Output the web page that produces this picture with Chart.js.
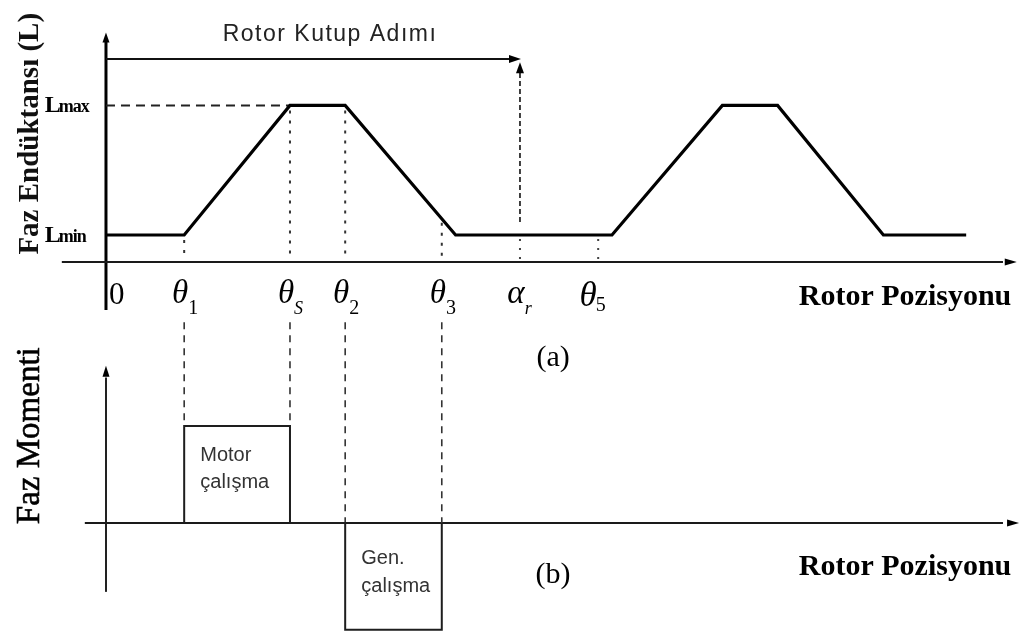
<!DOCTYPE html>
<html>
<head>
<meta charset="utf-8">
<script src="https://cdn.jsdelivr.net/npm/chart.js@4/dist/chart.umd.min.js"></script>
<style>
  html, body { margin: 0; padding: 0; background: #fff; }
  #wrap { width: 1024px; height: 633px; }
</style>
</head>
<body>
<div id="wrap"><canvas id="c" width="1024" height="633"></canvas></div>
<script>
// Rotor positions (electrical degrees) marked along the position axis
const positionMain   = ['0', 'θ', 'θ', 'θ', 'θ', 'α', 'θ'];
const positionSub    = ['',  '1', 'S', '2', '3', 'r', '5'];
const positionValues = [0, 17, 40, 52, 73, 90, 107];

// Phase inductance profile (two rotor pole pitches)
const L_MIN = 10, L_MAX = 58;
const inductanceAngle = [0, 17, 40, 52, 76, 110, 134, 146, 169, 187];
const inductanceValue = [L_MIN, L_MIN, L_MAX, L_MAX, L_MIN, L_MIN, L_MAX, L_MAX, L_MIN, L_MIN];

// Phase torque: motoring block (θ1..θS) and generating block (θ2..θ3)
const torqueAngle = [17, 17, 40, 40, 52, 52, 73, 73];
const torqueValue = [0, 1, 1, 0, 0, -1.1, -1.1, 0];

const ROTOR_POLE_PITCH = 90;

const SERIF = '"Liberation Serif", "DejaVu Serif", serif';
const SANS = '"Liberation Sans", Arial, sans-serif';

function seg(ctx, x1, y1, x2, y2, w, color, dash) {
  ctx.beginPath();
  ctx.setLineDash(dash || []);
  ctx.lineWidth = w;
  ctx.strokeStyle = color;
  ctx.moveTo(x1, y1);
  ctx.lineTo(x2, y2);
  ctx.stroke();
  ctx.setLineDash([]);
}

function head(ctx, tx, ty, ang, len, half, color) {
  const c = Math.cos(ang), s = Math.sin(ang);
  const bx = tx - c * len, by = ty - s * len;
  ctx.beginPath();
  ctx.fillStyle = color || '#000';
  ctx.moveTo(tx, ty);
  ctx.lineTo(bx - s * half, by + c * half);
  ctx.lineTo(bx + s * half, by - c * half);
  ctx.closePath();
  ctx.fill();
}

const decor = {
  id: 'decor',
  beforeDatasetsDraw(chart) {
    const { ctx, scales: { x, yL, yT } } = chart;
    const X = v => x.getPixelForValue(v);
    const YL = v => yL.getPixelForValue(v);
    const YT = v => yT.getPixelForValue(v);
    ctx.save();
    ctx.lineCap = 'butt';

    // ---- (a) inductance panel axes ----
    seg(ctx, X(0), YL(-17.8), X(0), YL(82), 3, '#000');
    head(ctx, X(0), YL(85), -Math.PI / 2, 10, 3.5, '#000');
    seg(ctx, X(-9.6), YL(0), X(195), YL(0), 2, '#1a1a1a');
    head(ctx, X(198), YL(0), 0, 12, 3.5, '#000');

    // rotor pole pitch arrow
    seg(ctx, X(0), YL(75.2), X(ROTOR_POLE_PITCH) - 4, YL(75.2), 2, '#111');
    head(ctx, X(ROTOR_POLE_PITCH) + 1, YL(75.2), 0, 12, 4, '#000');
    seg(ctx, X(ROTOR_POLE_PITCH), YL(14.8), X(ROTOR_POLE_PITCH), YL(71), 1.6, '#111', [5, 3]);
    head(ctx, X(ROTOR_POLE_PITCH), YL(74), -Math.PI / 2, 11, 4, '#000');

    // L_max reference
    seg(ctx, X(0), YL(L_MAX), X(40), YL(L_MAX), 2, '#222', [9, 6]);

    // dotted guides from the profile down to the axis
    const dot = [3, 7];
    seg(ctx, X(17), YL(L_MIN) + 5, X(17), YL(0) - 2, 2, '#333', dot);
    seg(ctx, X(40), YL(L_MAX) + 5, X(40), YL(3), 2, '#333', dot);
    seg(ctx, X(52), YL(L_MAX) + 5, X(52), YL(3), 2, '#333', dot);
    seg(ctx, X(73), YL(16) + 4, X(73), YL(0) - 2, 2, '#333', dot);
    seg(ctx, X(90), YL(L_MIN) + 4, X(90), YL(0) + 3, 2, '#444', [2, 7]);
    seg(ctx, X(107), YL(L_MIN) + 4, X(107), YL(0) + 3, 2, '#444', [2, 7]);

    // ---- (b) torque panel axes ----
    seg(ctx, X(0), YT(-0.71), X(0), YT(1.5), 2, '#222');
    head(ctx, X(0), YT(1.62), -Math.PI / 2, 11, 3.5, '#000');
    seg(ctx, X(-4.6), YT(0), X(195), YT(0), 2, '#1a1a1a');
    head(ctx, X(198.5), YT(0), 0, 12, 3.5, '#000');

    // dashed projections of the switching angles
    const dash = [7, 6];
    seg(ctx, X(17), YT(2.07), X(17), YT(1), 1.6, '#333', dash);
    seg(ctx, X(40), YT(2.07), X(40), YT(1), 1.6, '#333', dash);
    seg(ctx, X(52), YT(2.07), X(52), YT(0), 1.6, '#333', dash);
    seg(ctx, X(73), YT(2.07), X(73), YT(0), 1.6, '#333', dash);
    ctx.restore();
  },
  afterDatasetsDraw(chart) {
    const { ctx, scales: { x, yL, yT } } = chart;
    const X = v => x.getPixelForValue(v);
    const YL = v => yL.getPixelForValue(v);
    const YT = v => yT.getPixelForValue(v);
    ctx.save();
    ctx.fillStyle = '#000';

    // title of the pitch arrow
    ctx.font = '23px ' + SANS;
    ctx.letterSpacing = '1.5px';
    ctx.textAlign = 'center';
    ctx.textBaseline = 'middle';
    ctx.fillStyle = '#222';
    ctx.fillText('Rotor Kutup Adımı', X(48.7), YL(84.2));
    ctx.letterSpacing = '0px';

    // L_max / L_min labels
    ctx.fillStyle = '#000';
    ctx.textBaseline = 'alphabetic';
    ctx.textAlign = 'left';
    [['max', L_MAX], ['min', L_MIN]].forEach(([s, v]) => {
      const by = YL(v) + 7;
      ctx.font = 'bold 24px ' + SERIF;
      const w = ctx.measureText('L').width;
      ctx.fillText('L', X(-13.3), by);
      ctx.font = 'bold 18px ' + SERIF;
      ctx.letterSpacing = '-1px';
      ctx.fillText(s, X(-13.3) + w - 2, by);
      ctx.letterSpacing = '0px';
    });

    // position marks along the axis
    positionValues.forEach((v, i) => {
      const main = positionMain[i], sub = positionSub[i];
      const by = YL(-11.2) + 11;
      if (main === '0') {
        ctx.font = '31px ' + SERIF;
        ctx.textAlign = 'left';
        ctx.fillText('0', X(v) + 3, by + 1);
        return;
      }
      const theta5 = sub === '5';
      ctx.font = (theta5 ? 'italic 35px ' : 'italic 33px ') + SERIF;
      ctx.textAlign = 'left';
      const mw = ctx.measureText(main).width;
      const left = X(v) - mw / 2 - (theta5 ? 10 : 4);
      ctx.fillText(main, left, by + (theta5 ? 3 : 0));
      ctx.font = (sub === 'r' || sub === 'S' ? 'italic 18px ' : '20px ') + SERIF;
      ctx.fillText(sub, left + mw + (theta5 ? -1 : 0), by + (theta5 ? 8 : 11));
    });

    // axis captions
    ctx.font = 'bold 30px ' + SERIF;
    ctx.textAlign = 'right';
    ctx.textBaseline = 'middle';
    ctx.fillText('Rotor Pozisyonu', X(196.8), YL(-13));
    ctx.fillText('Rotor Pozisyonu', X(196.8), YT(-0.46));

    ctx.font = '30px ' + SERIF;
    ctx.textAlign = 'center';
    ctx.fillText('(a)', X(97.2), YL(-35.6));
    ctx.fillText('(b)', X(97.2), YT(-0.54));

    // rotated value-axis titles
    ctx.save();
    ctx.translate(31, YL(47.5));
    ctx.rotate(-Math.PI / 2);
    ctx.font = 'bold 29px ' + SERIF;
    ctx.fillStyle = '#111';
    ctx.fillText('Faz Endüktansı (L)', 0, 0);
    ctx.restore();

    ctx.save();
    ctx.translate(30, YT(0.9));
    ctx.rotate(-Math.PI / 2);
    ctx.font = '33px ' + SERIF;
    ctx.fillStyle = '#000';
    ctx.lineWidth = 0.6;
    ctx.strokeStyle = '#000';
    ctx.fillText('Faz Momenti', 0, 0);
    ctx.strokeText('Faz Momenti', 0, 0);
    ctx.restore();

    // block annotations
    ctx.font = '20px ' + SANS;
    ctx.fillStyle = '#333';
    ctx.textAlign = 'left';
    ctx.fillText('Motor', X(20.5), YT(0.7));
    ctx.fillText('çalışma', X(20.5), YT(0.42));
    ctx.fillText('Gen.', X(55.5), YT(-0.37));
    ctx.fillText('çalışma', X(55.5), YT(-0.65));
    ctx.restore();
  }
};

new Chart(document.getElementById('c'), {
  type: 'scatter',
  data: {
    datasets: [
      {
        label: 'Faz Endüktansı',
        data: inductanceAngle.map((a, i) => ({ x: a, y: inductanceValue[i] })),
        yAxisID: 'yL',
        showLine: true,
        borderColor: '#000',
        borderWidth: 3.2,
        pointRadius: 0,
        tension: 0,
        borderJoinStyle: 'miter'
      },
      {
        label: 'Faz Momenti',
        data: torqueAngle.map((a, i) => ({ x: a, y: torqueValue[i] })),
        yAxisID: 'yT',
        showLine: true,
        borderColor: '#1e1e1e',
        borderWidth: 2,
        pointRadius: 0,
        tension: 0
      }
    ]
  },
  options: {
    responsive: false,
    animation: false,
    devicePixelRatio: 1,
    layout: { padding: 0 },
    plugins: { legend: { display: false }, tooltip: { enabled: false } },
    scales: {
      x: { type: 'linear', min: -23.04, max: 199.57, display: false },
      yL: { type: 'linear', position: 'left', min: -137.4, max: 97.04, display: false },
      yT: { type: 'linear', position: 'right', min: -1.134, max: 5.392, display: false }
    }
  },
  plugins: [decor]
});
</script>
</body>
</html>
